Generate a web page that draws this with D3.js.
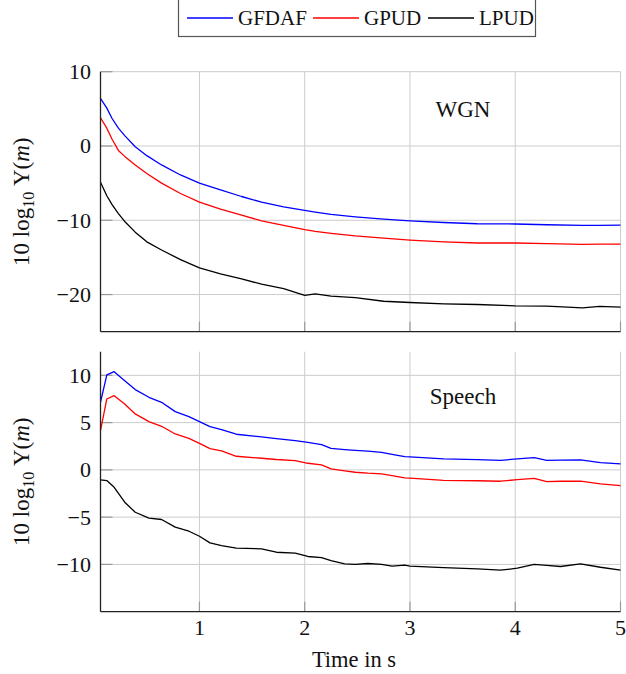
<!DOCTYPE html>
<html>
<head>
<meta charset="utf-8">
<script src="https://cdn.jsdelivr.net/npm/d3@7"></script>
<style>
  body { margin: 0; background: #fff; }
</style>
</head>
<body>
<script>
let w = 626;
let h = 674;
let serif = "'Liberation Serif', 'Times New Roman', Times, 'DejaVu Serif', serif";

// Series names and colours
let seriesNames = ["GFDAF", "GPUD", "LPUD"];
let seriesColors = ["#0000ff", "#ff0000", "#000000"];

// Top panel (WGN) - time in s, values in dB
let wgnT = [0.06, 0.12, 0.17, 0.23, 0.29, 0.39, 0.5, 0.64, 0.82, 1.0, 1.2, 1.4, 1.59, 1.8, 2.0, 2.1, 2.25, 2.48, 2.75, 3.0, 3.32, 3.64, 4.0, 4.3, 4.64, 4.8, 5.0];
let wgnGFDAF = [6.4, 5.1, 3.7, 2.4, 1.4, -0.1, -1.3, -2.55, -3.9, -5.0, -5.9, -6.8, -7.56, -8.2, -8.68, -8.9, -9.2, -9.53, -9.85, -10.07, -10.3, -10.47, -10.5, -10.6, -10.7, -10.7, -10.65];
let wgnGPUD = [3.8, 2.4, 0.9, -0.6, -1.4, -2.55, -3.7, -5.0, -6.4, -7.56, -8.5, -9.3, -10.07, -10.7, -11.27, -11.5, -11.75, -12.1, -12.4, -12.66, -12.9, -13.06, -13.06, -13.15, -13.24, -13.22, -13.2];
let wgnLPUD = [-4.88, -6.7, -7.9, -9.1, -10.16, -11.6, -12.9, -14.0, -15.3, -16.42, -17.2, -17.9, -18.6, -19.2, -20.1, -19.9, -20.2, -20.4, -20.9, -21.07, -21.25, -21.34, -21.52, -21.55, -21.79, -21.6, -21.7];

// Bottom panel (Speech)
let spT = [0.06, 0.12, 0.19, 0.29, 0.39, 0.52, 0.64, 0.77, 0.9, 1.0, 1.1, 1.21, 1.35, 1.59, 1.73, 1.91, 2.03, 2.16, 2.25, 2.38, 2.48, 2.6, 2.73, 2.83, 2.95, 3.0, 3.32, 3.64, 3.86, 4.02, 4.18, 4.3, 4.43, 4.62, 4.81, 5.0];
let spGFDAF = [7.15, 10.04, 10.39, 9.44, 8.49, 7.68, 7.15, 6.16, 5.63, 5.1, 4.58, 4.26, 3.77, 3.49, 3.3, 3.1, 2.92, 2.67, 2.28, 2.15, 2.07, 1.98, 1.86, 1.65, 1.41, 1.38, 1.16, 1.08, 1.01, 1.16, 1.3, 1.01, 1.03, 1.05, 0.77, 0.63];
let spGPUD = [4.15, 7.5, 7.85, 6.97, 5.92, 5.1, 4.61, 3.8, 3.34, 2.81, 2.25, 2.0, 1.44, 1.23, 1.1, 0.98, 0.7, 0.53, 0.1, -0.1, -0.25, -0.35, -0.42, -0.6, -0.85, -0.88, -1.1, -1.15, -1.2, -1.03, -0.89, -1.24, -1.2, -1.2, -1.48, -1.66];
let spLPUD = [-1.06, -1.13, -1.84, -3.42, -4.48, -5.1, -5.25, -6.06, -6.49, -7.02, -7.72, -8.0, -8.28, -8.35, -8.71, -8.81, -9.16, -9.27, -9.59, -9.94, -10.0, -9.9, -10.0, -10.19, -10.08, -10.19, -10.33, -10.47, -10.61, -10.4, -10.0, -10.1, -10.22, -9.94, -10.3, -10.61];

// Ticks
let xTicks = [1, 2, 3, 4, 5];
let wgnYTicks = [-20, -10, 0, 10];
let spYTicks = [-10, -5, 0, 5, 10];

let svg = d3.select("body")
  .append("svg")
  .attr("width", w)
  .attr("height", h)
  .attr("font-family", serif);

let left = 100.5;
let right = 620.5;

let xScale = d3.scaleLinear()
  .domain([0.06, 5])
  .range([left, right]);

let fmt = (d) => d < 0 ? "\u2212" + Math.abs(d) : "" + d;

function drawPanel(top, bottom, yDomain, yTicks, tArr, seriesArr, label, labelY, showXLabels) {
  let yScale = d3.scaleLinear()
    .domain(yDomain)
    .range([bottom, top]);

  let g = svg.append("g");

  // grid
  g.selectAll(".vgrid")
    .data(xTicks)
    .enter()
    .append("line")
    .attr("x1", (d) => xScale(d))
    .attr("x2", (d) => xScale(d))
    .attr("y1", top)
    .attr("y2", bottom)
    .attr("stroke", "#cccccc")
    .attr("stroke-width", 1);

  g.selectAll(".hgrid")
    .data(yTicks)
    .enter()
    .append("line")
    .attr("x1", left)
    .attr("x2", right)
    .attr("y1", (d) => yScale(d))
    .attr("y2", (d) => yScale(d))
    .attr("stroke", "#cccccc")
    .attr("stroke-width", 1);

  // tick marks (inside)
  g.selectAll(".xtick")
    .data(xTicks)
    .enter()
    .append("line")
    .attr("x1", (d) => xScale(d))
    .attr("x2", (d) => xScale(d))
    .attr("y1", bottom)
    .attr("y2", bottom - 10)
    .attr("stroke", "#999999")
    .attr("stroke-width", 1.2);

  g.selectAll(".ytick")
    .data(yTicks)
    .enter()
    .append("line")
    .attr("x1", left)
    .attr("x2", left + 12)
    .attr("y1", (d) => yScale(d))
    .attr("y2", (d) => yScale(d))
    .attr("stroke", "#999999")
    .attr("stroke-width", 1.2);

  // lines
  seriesArr.forEach((vals, k) => {
    let line = d3.line()
      .x((d, i) => xScale(tArr[i]))
      .y((d) => yScale(d));
    g.append("path")
      .datum(vals)
      .attr("d", line)
      .attr("fill", "none")
      .attr("stroke", seriesColors[k])
      .attr("stroke-width", 1.3)
      .attr("stroke-linejoin", "round");
  });

  // axis lines (left + bottom)
  g.append("line")
    .attr("x1", left).attr("x2", left)
    .attr("y1", top).attr("y2", bottom)
    .attr("stroke", "#222").attr("stroke-width", 1.3);
  g.append("line")
    .attr("x1", left).attr("x2", right)
    .attr("y1", bottom).attr("y2", bottom)
    .attr("stroke", "#222").attr("stroke-width", 1.3);

  // y tick labels
  g.selectAll(".ylab")
    .data(yTicks)
    .enter()
    .append("text")
    .text((d) => fmt(d))
    .attr("x", 91)
    .attr("y", (d) => yScale(d) + 7.5)
    .attr("text-anchor", "end")
    .attr("font-size", "22px")
    .attr("fill", "#111");

  if (showXLabels) {
    g.selectAll(".xlab")
      .data(xTicks)
      .enter()
      .append("text")
      .text((d) => d)
      .attr("x", (d) => xScale(d))
      .attr("y", bottom + 23.5)
      .attr("text-anchor", "middle")
      .attr("font-size", "22px")
      .attr("fill", "#111");
  }

  // panel label
  g.append("text")
    .text(label)
    .attr("x", 463)
    .attr("y", labelY)
    .attr("text-anchor", "middle")
    .attr("font-size", "23px")
    .attr("fill", "#111");

  // y axis label
  let cy = (top + bottom) / 2;
  let yl = g.append("text")
    .attr("transform", "translate(29," + cy + ") rotate(-90)")
    .attr("text-anchor", "middle")
    .attr("font-size", "23px")
    .attr("fill", "#111");
  yl.append("tspan").text("10 log");
  yl.append("tspan").text("10").attr("font-size", "16px").attr("dy", 5);
  yl.append("tspan").text(" \u03a5(").attr("dy", -5);
  yl.append("tspan").text("m").attr("font-style", "italic");
  yl.append("tspan").text(")");
}

drawPanel(71.7, 331.7, [-25, 10], wgnYTicks, wgnT, [wgnGFDAF, wgnGPUD, wgnLPUD], "WGN", 117, false);
drawPanel(351.7, 611.7, [-15, 12.5], spYTicks, spT, [spGFDAF, spGPUD, spLPUD], "Speech", 404, true);

// x axis title
svg.append("text")
  .text("Time in s")
  .attr("x", 354)
  .attr("y", 667)
  .attr("text-anchor", "middle")
  .attr("font-size", "22.5px")
  .attr("fill", "#111");

// Legend
let legend = svg.append("g");
legend.append("rect")
  .attr("x", 178.5)
  .attr("y", -1)
  .attr("width", 357)
  .attr("height", 37.5)
  .attr("fill", "#fff")
  .attr("stroke", "#555")
  .attr("stroke-width", 1.2);

let legendX = [187, 313, 428];
seriesNames.forEach((name, k) => {
  legend.append("line")
    .attr("x1", legendX[k])
    .attr("x2", legendX[k] + 46)
    .attr("y1", 18)
    .attr("y2", 18)
    .attr("stroke", seriesColors[k])
    .attr("stroke-width", 1.3);
  legend.append("text")
    .text(name)
    .attr("x", legendX[k] + 51)
    .attr("y", 25)
    .attr("font-size", "21px")
    .attr("fill", "#111");
});
</script>
</body>
</html>
